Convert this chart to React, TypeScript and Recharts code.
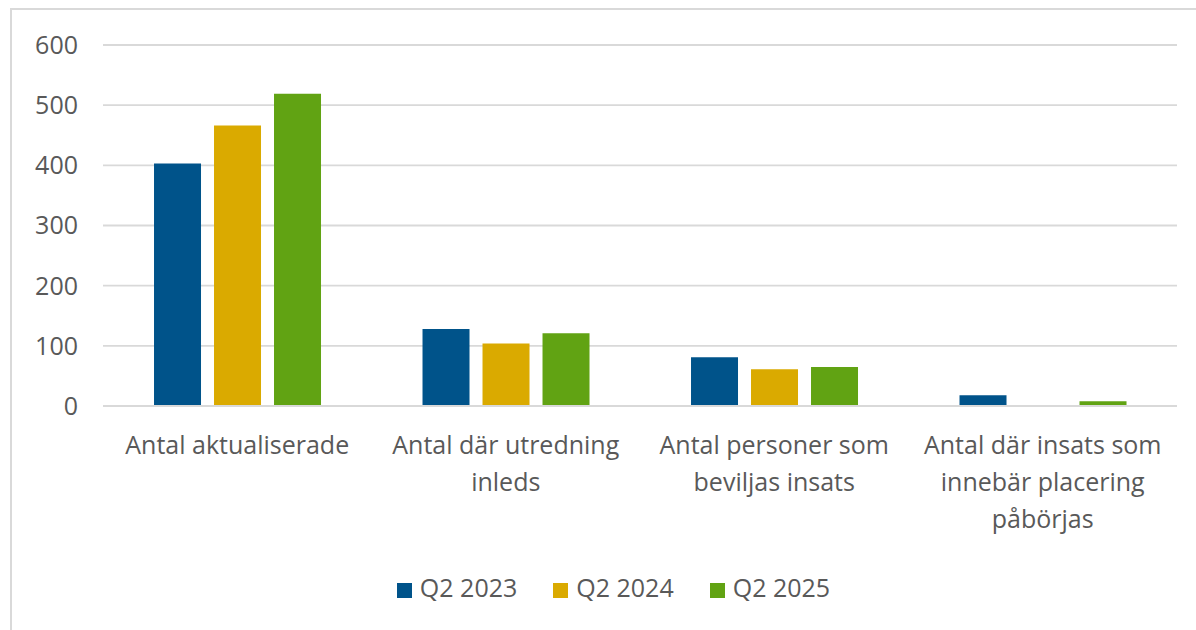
import { BarChart, Bar, CartesianGrid, XAxis, YAxis, Legend } from "recharts";

// ─── Data ─────────────────────────────────────────────────────────────────────

const categories = [
  "Antal aktualiserade",
  "Antal där utredning inleds",
  "Antal personer som beviljas insats",
  "Antal där insats som innebär placering påbörjas",
];

// how each category label wraps under the axis
const categoryLines = [
  ["Antal aktualiserade"],
  ["Antal där utredning", "inleds"],
  ["Antal personer som", "beviljas insats"],
  ["Antal där insats som", "innebär placering", "påbörjas"],
];

const q2_2023 = [403, 128, 81, 18];
const q2_2024 = [466, 104, 61, 0];
const q2_2025 = [519, 121, 65, 8];

const yTicks = [0, 100, 200, 300, 400, 500, 600];

const data = categories.map((name, i) => ({
  name,
  q2023: q2_2023[i],
  q2024: q2_2024[i],
  q2025: q2_2025[i],
}));

const FONT = "'Open Sans', 'Liberation Sans', sans-serif";
const TEXT = "#595959";

// ─── Ticks ────────────────────────────────────────────────────────────────────

function CategoryTick({ x, y, payload }: any) {
  const idx = categories.indexOf(payload.value);
  const lines = categoryLines[idx] ?? [payload.value];
  return (
    <text
      x={x}
      y={y + 46}
      textAnchor="middle"
      fill={TEXT}
      fontSize={25}
      fontFamily={FONT}
    >
      {lines.map((l, i) => (
        <tspan key={i} x={x} dy={i === 0 ? 0 : 37}>
          {l}
        </tspan>
      ))}
    </text>
  );
}

// ─── Component ────────────────────────────────────────────────────────────────

export default function App() {
  return (
    <div
      style={{
        position: "fixed",
        left: 10,
        top: 8,
        width: 1186,
        height: 622,
        borderLeft: "2px solid #d9d9d9",
        borderTop: "2px solid #d9d9d9",
        background: "#fff",
        overflow: "hidden",
        boxSizing: "border-box",
      }}
    >
      <BarChart
        width={1184}
        height={620}
        data={data}
        margin={{ top: 35, right: 19, left: 0, bottom: 0 }}
        barCategoryGap="19%"
        barGap={13}
      >
        <CartesianGrid
          vertical={false}
          stroke="#d9d9d9"
          strokeWidth={1.8}
        />
        <XAxis
          dataKey="name"
          interval={0}
          axisLine={{ stroke: "#d9d9d9", strokeWidth: 1.8 }}
          tickLine={false}
          tickSize={0}
          height={190}
          tick={<CategoryTick />}
        />
        <YAxis
          width={91}
          domain={[0, 600]}
          ticks={yTicks}
          axisLine={false}
          tickLine={false}
          tickSize={0}
          tickMargin={25}
          tick={{ fontSize: 25, fill: TEXT, fontFamily: FONT }}
        />
        <Legend
          verticalAlign="bottom"
          align="center"
          iconType="square"
          iconSize={15}
          wrapperStyle={{
            top: 560,
            left: 37,
            fontFamily: FONT,
            fontSize: 25,
          }}
          formatter={(value: string) => (
            <span style={{ color: TEXT, marginLeft: 4, marginRight: 26 }}>
              {value}
            </span>
          )}
        />
        <Bar
          dataKey="q2023"
          name="Q2 2023"
          fill="#00538A"
          isAnimationActive={false}
        />
        <Bar
          dataKey="q2024"
          name="Q2 2024"
          fill="#DAAA00"
          isAnimationActive={false}
        />
        <Bar
          dataKey="q2025"
          name="Q2 2025"
          fill="#61A313"
          isAnimationActive={false}
        />
      </BarChart>
    </div>
  );
}
